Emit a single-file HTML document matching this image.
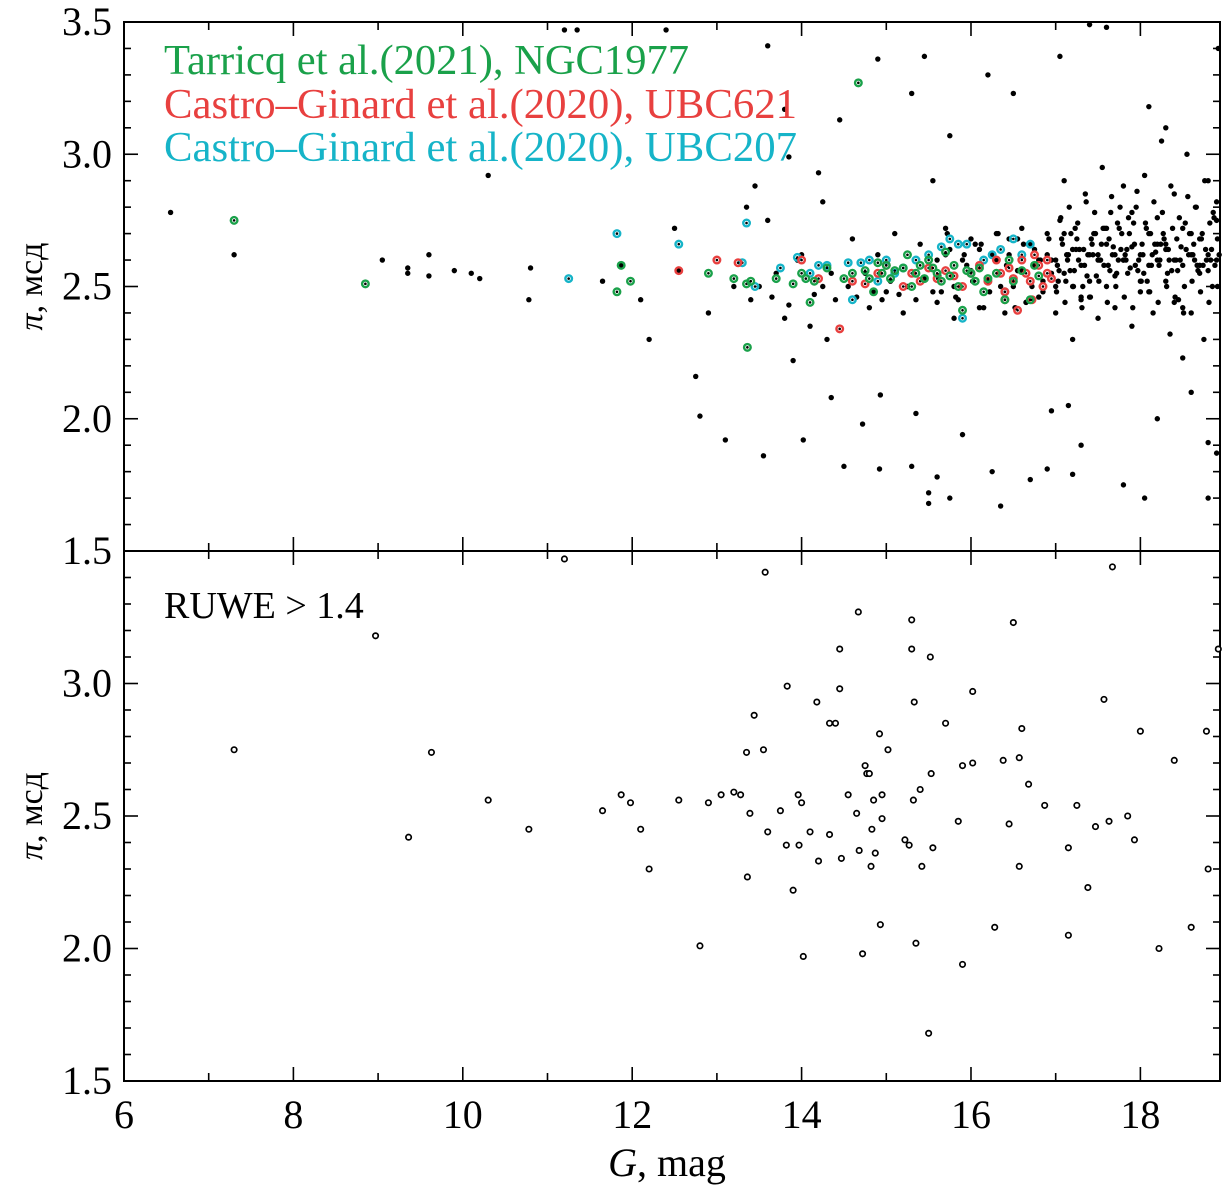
<!DOCTYPE html>
<html><head><meta charset="utf-8">
<style>
html,body{margin:0;padding:0;background:#fff;}
svg{display:block;}
text{font-family:"Liberation Serif",serif;}
</style></head>
<body>
<svg id="chart" width="1223" height="1188" viewBox="0 0 1223 1188"></svg>
<script>
// axis ranges
const xDomain=[6,18.94];
const yDomain=[1.5,3.5];
const xTicks=[6,8,10,12,14,16,18];
const yTicks=[1.5,2.0,2.5,3.0,3.5];
const yTickLabels=["1.5","2.0","2.5","3.0","3.5"];
// top panel black stars (G, parallax)
const topG=[6.55,7.3,9.05,9.35,9.35,9.6,9.6,9.9,10.1,10.2,10.3,10.8,10.78,11.2,11.35,11.65,11.87,12.1,12.2,12.4,12.5,12.55,12.75,12.8,12.9,13.1,13.35,13.45,13.55,13.6,13.6,13.9,13.85,13.8,13.95,14.02,14.2,14.25,14.35,14.45,14.5,14.72,14.9,14.93,14.92,15.3,15.35,15.3,15.5,15.5,15.55,15.45,15.6,15.75,15.75,15.9,16.2,16.25,16.35,16.5,16.7,16.9,16.95,17.05,17.15,17.2,17.3,17.4,17.6,17.8,18.05,18.1,18.2,18.3,18.5,18.6,18.8,18.8,18.9,18.92,18.95,
13.2,13.4,13.7,13.8,14.0,14.1,14.3,14.4,14.6,14.8,14.9,15.0,15.1,15.2,15.4,15.6,15.7,15.8,16.0,16.1,16.3,16.4,16.6,16.8,
17.0,17.0,17.05,17.1,17.1,17.15,17.2,17.2,17.25,17.3,17.3,17.35,17.4,17.4,17.45,17.5,17.5,17.55,17.6,17.6,17.65,17.7,17.7,17.75,17.8,17.8,17.85,17.9,17.9,17.95,18.0,18.0,18.05,18.1,18.1,18.15,18.2,18.2,18.25,18.3,18.3,18.35,18.4,18.4,18.45,18.5,18.5,18.55,18.6,18.6,18.65,18.7,18.7,18.75,18.8,18.8,18.85,18.9,18.9,
17.02,17.08,17.12,17.18,17.22,17.28,17.32,17.38,17.42,17.48,17.52,17.58,17.62,17.68,17.72,17.78,17.82,17.88,17.92,17.98,18.02,18.08,18.12,18.18,18.22,18.28,18.32,18.38,18.42,18.48,18.52,18.58,18.62,18.68,18.72,18.78,18.82,18.88,
17.0,17.2,17.4,17.6,17.8,18.0,18.2,18.4,18.6,18.8,17.1,17.3,17.5,17.7,17.9,18.1,18.3,18.5,18.7,18.9,
16.9,16.95,16.85,16.9,16.8,16.7,16.6,16.5,16.45,16.55,16.65,16.75,16.3,16.2,16.1,16.0,15.9,15.8,15.7];
const topPi=[2.78,2.62,2.6,2.57,2.55,2.62,2.54,2.56,2.55,2.53,2.92,2.57,2.45,3.47,3.47,2.52,2.58,2.45,2.30,3.47,2.72,2.56,2.16,2.01,2.40,1.92,2.8,2.88,1.86,3.41,2.75,2.22,2.99,3.17,2.6,1.92,2.93,2.82,2.08,3.13,1.82,1.98,3.36,2.09,1.81,3.23,2.02,1.82,1.68,1.72,2.9,3.37,1.78,1.7,3.07,1.94,3.3,1.8,1.67,3.23,1.77,1.81,2.03,3.37,2.05,1.79,1.9,3.49,3.48,1.75,1.7,3.18,2.0,3.1,2.23,2.1,1.91,1.7,1.87,3.4,3.25,
2.5,2.45,2.55,2.38,2.62,2.35,2.3,2.45,2.68,2.42,2.62,2.48,2.7,2.4,2.66,2.44,2.72,2.38,2.68,2.42,2.7,2.4,2.72,2.46,
2.6,2.4,2.75,2.55,2.9,2.62,2.5,2.3,2.68,2.58,2.45,2.85,2.62,2.52,2.7,2.6,2.38,2.95,2.66,2.5,2.78,2.62,2.42,2.72,2.6,2.88,2.55,2.65,2.35,2.8,2.62,2.48,2.92,2.58,2.7,2.4,2.6,2.76,3.05,2.52,2.66,2.32,2.85,2.6,2.45,2.72,2.58,3.0,2.62,2.4,2.8,2.55,2.68,2.3,2.9,2.62,2.5,2.75,2.6,
2.58,2.66,2.52,2.7,2.56,2.64,2.5,2.62,2.68,2.54,2.6,2.72,2.58,2.65,2.55,2.7,2.62,2.57,2.74,2.6,2.66,2.52,2.7,2.63,2.58,2.68,2.55,2.72,2.6,2.65,2.5,2.7,2.62,2.56,2.68,2.6,2.74,2.58,
2.5,2.64,2.46,2.72,2.6,2.52,2.66,2.44,2.7,2.56,2.7,2.46,2.62,2.54,2.78,2.48,2.64,2.42,2.58,2.82,
2.62,2.55,2.48,2.7,2.6,2.66,2.56,2.5,2.62,2.68,2.44,2.58,2.6,2.52,2.64,2.56,2.6,2.5,2.62];
// extra dense-cloud stars
const cloudG=[15.6,15.65,15.75,15.85,15.95,16.05,16.15,16.25,16.35,16.45,16.55,16.65,16.75,16.85,16.95,
15.62,15.72,15.82,15.92,16.02,16.12,16.22,16.32,16.42,16.52,16.62,16.72,16.82,16.92,
17.03,17.07,17.13,17.17,17.23,17.27,17.33,17.37,17.43,17.47,17.53,17.57,17.63,17.67,17.73,17.77,17.83,17.87,17.93,17.97,
18.03,18.07,18.13,18.17,18.23,18.27,18.33,18.37,18.43,18.47,18.53,18.57,18.63,18.67,18.73,18.77,18.83,18.87,18.91,18.93,
17.01,17.11,17.21,17.31,17.41,17.51,17.61,17.71,17.81,17.91,18.01,18.11,18.21,18.31,18.41,18.51,18.61,18.71,18.81,18.91,
17.06,17.16,17.26,17.36,17.46,17.56,17.66,17.76,17.86,17.96,18.06,18.16,18.26,18.36,18.46,18.56,18.66,18.76,18.86,
17.04,17.14,17.24,17.34,17.44,17.54,17.64,17.74,17.84,17.94,18.04,18.14,18.24,18.34,18.44,18.54,18.64,18.74,18.84,
14.55,14.65,14.75,14.85,14.95,15.05,15.15,15.25,15.35,15.45,15.55,14.35,14.25,14.15,13.85,13.65,13.5];
const cloudPi=[2.6,2.48,2.64,2.45,2.58,2.66,2.42,2.62,2.5,2.68,2.56,2.44,2.64,2.52,2.6,
2.54,2.7,2.46,2.62,2.52,2.66,2.48,2.7,2.58,2.42,2.66,2.5,2.6,2.68,
2.52,2.68,2.62,2.56,2.72,2.6,2.64,2.54,2.66,2.7,2.6,2.58,2.68,2.62,2.74,2.64,2.6,2.7,2.66,2.56,
2.62,2.72,2.58,2.66,2.6,2.7,2.64,2.56,2.68,2.6,2.74,2.62,2.66,2.58,2.7,2.64,2.6,2.76,2.68,2.62,
2.48,2.44,2.5,2.42,2.46,2.52,2.44,2.5,2.46,2.42,2.52,2.48,2.44,2.5,2.46,2.4,2.52,2.48,2.44,2.5,
2.76,2.8,2.74,2.82,2.78,2.72,2.84,2.8,2.76,2.86,2.74,2.82,2.78,2.88,2.76,2.84,2.8,2.9,2.78,
2.56,2.6,2.64,2.58,2.62,2.66,2.56,2.6,2.64,2.58,2.55,2.62,2.66,2.6,2.56,2.64,2.6,2.58,2.64,
2.5,2.46,2.55,2.48,2.45,2.52,2.47,2.5,2.45,2.53,2.48,2.55,2.5,2.47,2.43,2.46,2.5];
// Tarricq (2021) NGC1977
const greenG=[7.3,8.85,11.82,11.87,11.98,12.9,13.2,13.35,13.4,13.7,13.9,14.0,14.05,14.1,14.15,14.3,14.5,14.6,14.67,14.75,14.8,14.85,14.9,14.95,15.0,15.05,15.1,15.2,15.25,15.3,15.35,15.4,15.45,15.5,15.55,15.6,15.65,15.7,15.75,15.8,15.85,15.9,15.95,16.0,16.05,16.1,16.15,16.2,16.3,16.4,16.45,16.5,16.6,16.7,16.75,16.8,13.36];
const greenPi=[2.75,2.51,2.48,2.58,2.52,2.55,2.53,2.51,2.52,2.53,2.51,2.55,2.53,2.44,2.52,2.57,2.53,2.55,3.27,2.56,2.53,2.48,2.59,2.55,2.58,2.53,2.56,2.57,2.62,2.5,2.55,2.58,2.53,2.6,2.57,2.55,2.52,2.63,2.54,2.58,2.5,2.41,2.56,2.55,2.52,2.57,2.48,2.53,2.55,2.45,2.6,2.52,2.56,2.45,2.58,2.54,2.27];
// Castro-Ginard (2020) UBC621
const redG=[12.55,13.0,13.25,14.0,14.2,14.45,14.6,14.75,14.9,15.0,15.2,15.3,15.4,15.5,15.6,15.7,15.8,15.9,16.0,16.1,16.2,16.3,16.35,16.4,16.45,16.5,16.55,16.6,16.65,16.7,16.75,16.8,16.85,16.9,16.9,16.95,16.72,16.4];
const redPi=[2.56,2.6,2.59,2.6,2.53,2.34,2.52,2.51,2.55,2.58,2.5,2.55,2.52,2.57,2.53,2.56,2.54,2.5,2.55,2.58,2.52,2.6,2.55,2.48,2.57,2.53,2.41,2.6,2.55,2.52,2.62,2.58,2.5,2.55,2.6,2.53,2.45,2.45];
// Castro-Ginard (2020) UBC207
const cyanG=[11.25,11.82,12.55,13.3,13.35,13.45,13.75,13.95,14.1,14.2,14.3,14.55,14.6,14.7,14.8,14.9,15.0,15.1,15.2,15.35,15.5,15.65,15.75,15.85,15.95,16.0,16.15,16.25,16.35,16.5,16.6,16.7,16.4,15.9];
const cyanPi=[2.53,2.7,2.66,2.59,2.74,2.5,2.57,2.61,2.55,2.58,2.58,2.59,2.45,2.59,2.6,2.52,2.6,2.55,2.57,2.6,2.62,2.65,2.68,2.66,2.66,2.55,2.6,2.62,2.64,2.68,2.62,2.66,2.48,2.38];
// bottom panel RUWE > 1.4
const ruweG=[7.3,8.97,9.36,9.63,10.3,10.78,11.2,11.65,11.87,11.98,12.1,12.2,12.55,12.8,12.9,13.05,13.2,13.28,13.35,13.36,13.39,13.44,13.55,13.57,13.6,13.75,13.82,13.83,13.9,13.96,13.97,14.0,14.02,14.1,14.18,14.2,14.33,14.33,14.4,14.45,14.45,14.47,14.55,14.65,14.67,14.68,14.72,14.75,14.77,14.8,14.82,14.83,14.85,14.87,14.92,14.93,14.95,14.95,15.02,15.22,15.27,15.3,15.3,15.32,15.33,15.35,15.4,15.42,15.5,15.52,15.53,15.55,15.7,15.85,15.9,15.9,16.02,16.02,16.28,16.38,16.45,16.5,16.57,16.57,16.6,16.68,16.87,17.15,17.15,17.25,17.38,17.47,17.57,17.63,17.67,17.85,17.93,18.0,18.22,18.4,18.6,18.78,18.8,18.92];
const ruwePi=[2.75,3.18,2.42,2.74,2.56,2.45,3.47,2.52,2.58,2.55,2.45,2.30,2.56,2.01,2.55,2.58,2.59,2.58,2.74,2.27,2.51,2.88,2.75,3.42,2.44,2.52,2.39,2.99,2.22,2.58,2.39,2.55,1.97,2.44,2.93,2.33,2.85,2.43,2.85,2.98,3.13,2.34,2.58,2.51,3.27,2.37,1.98,2.69,2.66,2.66,2.31,2.45,2.56,2.36,2.81,2.09,2.58,2.49,2.75,2.41,2.39,3.24,3.13,2.56,2.93,2.02,2.6,2.31,1.68,3.1,2.66,2.38,2.85,2.48,2.69,1.94,2.7,2.97,2.08,2.71,2.47,3.23,2.72,2.31,2.83,2.62,2.54,2.05,2.38,2.54,2.23,2.46,2.94,2.48,3.44,2.5,2.41,2.82,2.0,2.71,2.08,2.82,2.3,3.13];

const NS="http://www.w3.org/2000/svg";
const svg=document.getElementById('chart');
const L=124,R=1220;
const panels=[{top:22,bot:551},{top:551,bot:1081}];
function X(v){return L+(v-xDomain[0])/(xDomain[1]-xDomain[0])*(R-L);}
function Y(p,v){return p.bot-(v-yDomain[0])/(yDomain[1]-yDomain[0])*(p.bot-p.top);}
function mk(tag,attrs,parent){const e=document.createElementNS(NS,tag);for(const k in attrs)e.setAttribute(k,attrs[k]);(parent||svg).appendChild(e);return e;}

panels.forEach((p,pi)=>{
  const g=mk('g',{});
  
  
  const fr=mk('rect',{x:L,y:p.top,width:R-L,height:p.bot-p.top,fill:'none',stroke:'#000','stroke-width':2},g);
  
  
  for(let v=6;v<=18.94;v+=1){
    const len=(v%2===0)?14:8;
    const x=X(v);
    mk('line',{x1:x,y1:p.bot,x2:x,y2:p.bot-len,stroke:'#000','stroke-width':1.6},g);
    mk('line',{x1:x,y1:p.top,x2:x,y2:p.top+len,stroke:'#000','stroke-width':1.6},g);
  }
  for(let i=0;i<=20;i++){
    const v=1.5+i*0.1;const len=(i%5===0)?14:7;const y=Y(p,v);
    mk('line',{x1:L,y1:y,x2:L+len,y2:y,stroke:'#000','stroke-width':1.6},g);
    mk('line',{x1:R,y1:y,x2:R-len,y2:y,stroke:'#000','stroke-width':1.6},g);
  }
  yTicks.forEach((v,i)=>{
    if(pi===1&&i===4)return;
    const t=mk('text',{x:112,y:Y(p,v)+13,'text-anchor':'end','font-size':40},g);
    t.textContent=yTickLabels[i];
    
    
  });
  const yl=mk('text',{x:0,y:0,'text-anchor':'middle','font-size':34,transform:`translate(42,${(p.top+p.bot)/2}) rotate(-90)`},g);
  yl.innerHTML='<tspan font-style="italic">π</tspan>, мсд';
  
  
});
xTicks.forEach(v=>{
  const t=mk('text',{x:X(v),y:1128,'text-anchor':'middle','font-size':40});
  t.textContent=String(v);
  
  
});
const xt=mk('text',{x:667,y:1176,'text-anchor':'middle','font-size':40});
xt.innerHTML='<tspan font-style="italic">G</tspan>, mag';



const P0=panels[0],P1=panels[1];
function inside(g,v){return g>=xDomain[0]&&g<=xDomain[1]&&v>=yDomain[0]&&v<=yDomain[1];}
function blacks(gs,ps){
  gs.forEach((g,i)=>{
    if(!inside(g,ps[i]))return;
    const c=mk('circle',{cx:X(g),cy:Y(P0,ps[i]),r:2.7,fill:'#000'});
    
    
  });
}
blacks(topG,topPi);
blacks(cloudG,cloudPi);
function colored(gs,ps,col,name){
  gs.forEach((g,i)=>{
    const c=mk('circle',{cx:X(g),cy:Y(P0,ps[i]),r:3.3,fill:'none',stroke:col,'stroke-width':2.4});
    
    
    mk('circle',{cx:X(g),cy:Y(P0,ps[i]),r:1.3,fill:'#000'});
  });
}
colored(cyanG,cyanPi,'#16b4c8','ubc207-member');
colored(redG,redPi,'#e8403f','ubc621-member');
colored(greenG,greenPi,'#1aa14a','ngc1977-member');
ruweG.forEach((g,i)=>{
  if(!inside(g,ruwePi[i]))return;
  const c=mk('circle',{cx:X(g),cy:Y(P1,ruwePi[i]),r:2.7,fill:'#fff',stroke:'#000','stroke-width':1.7});
  
  
});
const leg=[['Tarricq et al.(2021), NGC1977','#1aa14a',74],['Castro–Ginard et al.(2020), UBC621','#e8403f',118],['Castro–Ginard et al.(2020), UBC207','#16b4c8',161]];
leg.forEach(l=>{
  const t=mk('text',{x:164,y:l[2],'font-size':42,fill:l[1],textLength:l[0].length>30?633:525,lengthAdjust:'spacingAndGlyphs'});
  t.textContent=l[0];
  
  
});
const rt=mk('text',{x:164,y:618,'font-size':38});
rt.textContent='RUWE > 1.4';


</script>
</body></html>
